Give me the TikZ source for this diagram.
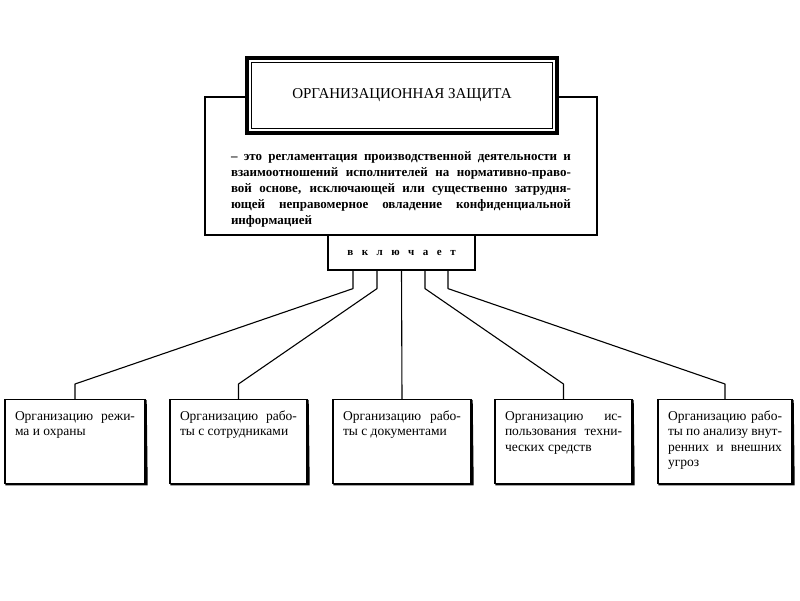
\documentclass[tikz,border=0pt]{standalone}
\usepackage{fontspec}
\setmainfont{Liberation Serif}
\newcommand{\bx}[2]{\parbox[c][84pt][t]{#1}{\vspace*{10pt}\strut #2}}
\begin{document}
\begin{tikzpicture}[x=1pt,y=-1pt,
  frame/.style={draw, line width=1.2pt, rectangle, inner sep=0pt},
  titlebox/.style={draw, line width=3.2pt, fill=white, rectangle, inner sep=0pt,
    minimum width=310pt, minimum height=75pt, font=\fontsize{15}{18}\selectfont},
  bbox/.style={draw, line width=1.2pt, rectangle, inner xsep=10pt, inner ysep=0pt,
    anchor=north, font=\fontsize{13.5}{15.5}\selectfont},
  link/.style={line width=1.1pt, line join=round},
  shade/.style={line width=2.2pt}]
\fill[white] (0,0) rectangle (800,600);
\useasboundingbox (0,0) rectangle (800,600);

% definition box
\node[frame, minimum width=392pt, minimum height=138pt] (defbox) at (401,166) {};
\node[text width=340pt, align=justify, inner sep=0pt,
  font=\bfseries\fontsize{13}{16}\selectfont] (deftext) at (401,189)
  {– это регламентация производственной деятельности и\linebreak
   взаимоотношений исполнителей на нормативно-право-\linebreak
   вой основе, исключающей или существенно затрудня-\linebreak
   ющей неправомерное овладение конфиденциальной\linebreak
   информацией};

% title
\node[titlebox] (title) at (402,95.5) {ОРГАНИЗАЦИОННАЯ ЗАЩИТА};
\draw[line width=0.8pt] ([shift={(6pt,-6pt)}]title.north west) rectangle ([shift={(-6pt,6pt)}]title.south east);

% includes
\node[frame, fill=white, minimum width=147pt, minimum height=35pt,
  font=\bfseries\fontsize{11}{13}\selectfont] (vkl) at (401.5,252.5)
  {в\hspace{8.5pt}к\hspace{8.5pt}л\hspace{8.5pt}ю\hspace{8.5pt}ч\hspace{8.5pt}а\hspace{8.5pt}е\hspace{8.5pt}т};

% bottom boxes (top at y=399)
\node[bbox] (b1) at (75,399) {\bx{120pt}{Организацию режи-\linebreak ма и охраны}};
\node[bbox] (b2) at (238.5,399) {\bx{117pt}{Организацию рабо-\linebreak ты с сотрудниками}};
\node[bbox] (b3) at (402,399) {\bx{118pt}{Организацию рабо-\linebreak ты с документами}};
\node[bbox] (b4) at (563.5,399) {\bx{117pt}{Организацию ис-\linebreak пользования техни-\linebreak ческих средств}};
\node[bbox] (b5) at (725,399) {\bx{114pt}{Организацию рабо-\linebreak ты по анализу внут-\linebreak ренних и внешних\linebreak угроз}};

\foreach \b in {b1,b2,b3,b4,b5}{
  \draw[shade] ([xshift=1pt]\b.south west) -- ([xshift=1pt]\b.south east) -- ([yshift=-1pt]\b.north east);
}

% connectors
\draw[link] ([xshift=-48.5pt]vkl.south) -- ++(0pt,-18pt) -- ([yshift=15pt]b1.north) -- (b1.north);
\draw[link] ([xshift=-24.5pt]vkl.south) -- ++(0pt,-18pt) -- ([yshift=15pt]b2.north) -- (b2.north);
\draw[link] (vkl.south) -- (b3.north);
\draw[link] ([xshift=23.5pt]vkl.south) -- ++(0pt,-18pt) -- ([yshift=15pt]b4.north) -- (b4.north);
\draw[link] ([xshift=46.5pt]vkl.south) -- ++(0pt,-18pt) -- ([yshift=15pt]b5.north) -- (b5.north);
\end{tikzpicture}
\end{document}
